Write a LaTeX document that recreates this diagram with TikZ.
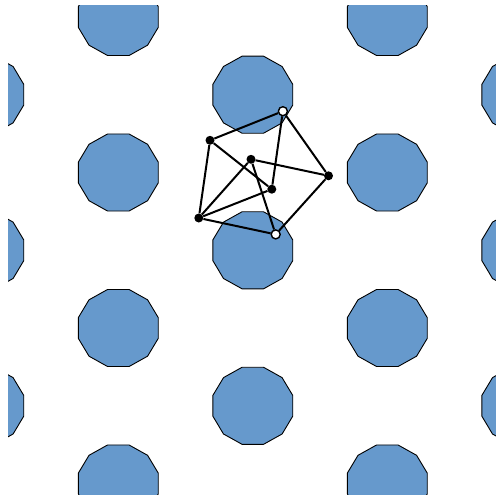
\documentclass[tikz,border=0pt]{standalone}
\definecolor{tileblue}{RGB}{102,153,204}
\begin{document}
\begin{tikzpicture}[x=1pt,y=-1pt,
  tile/.style={fill=tileblue,draw=black,line width=0.9pt,line join=round},
  bdot/.style={circle,fill=black,inner sep=0pt,minimum size=9pt},
  wdot/.style={circle,fill=white,draw=black,line width=1.4pt,inner sep=0pt,minimum size=9pt},
  link/.style={line width=2pt}]
\useasboundingbox (0,0) rectangle (496,495);
\begin{scope}
\clip (8,6) rectangle (497.6,494.6);
\foreach \cx/\cy in {118.3/17,387.3/17,118.3/172.5,387.3/172.5,118.3/328,387.3/328,118.3/483.5,387.3/483.5,
  -16.2/94.7,252.8/94.7,521.8/94.7,-16.2/250.3,252.8/250.3,521.8/250.3,-16.2/405.8,252.8/405.8,521.8/405.8}{
  \draw[tile,shift={(\cx,\cy)}] (15:41.4 and 39.9) -- (45:41.4 and 39.9) -- (75:41.4 and 39.9)
    -- (105:41.4 and 39.9) -- (135:41.4 and 39.9) -- (165:41.4 and 39.9) -- (195:41.4 and 39.9)
    -- (225:41.4 and 39.9) -- (255:41.4 and 39.9) -- (285:41.4 and 39.9) -- (315:41.4 and 39.9)
    -- (345:41.4 and 39.9) -- cycle;
}
\end{scope}
\node[wdot] (A) at (282.9,111.2) {};
\node[bdot] (B) at (210,140.3) {};
\node[bdot] (C) at (251,159.3) {};
\node[bdot] (D) at (328.5,175.8) {};
\node[bdot] (E) at (271.8,189.2) {};
\node[bdot] (F) at (198.8,218) {};
\node[wdot] (G) at (275.7,234.4) {};
\draw[link] (B) -- (A);
\draw[link] (A) -- (D);
\draw[link] (A) -- (E);
\draw[link] (D) -- (G);
\draw[link] (C) -- (D);
\draw[link] (C) -- (F);
\draw[link] (C) -- (G);
\draw[link] (B) -- (E);
\draw[link] (B) -- (F);
\draw[link] (F) -- (E);
\draw[link] (F) -- (G);
\end{tikzpicture}
\end{document}
